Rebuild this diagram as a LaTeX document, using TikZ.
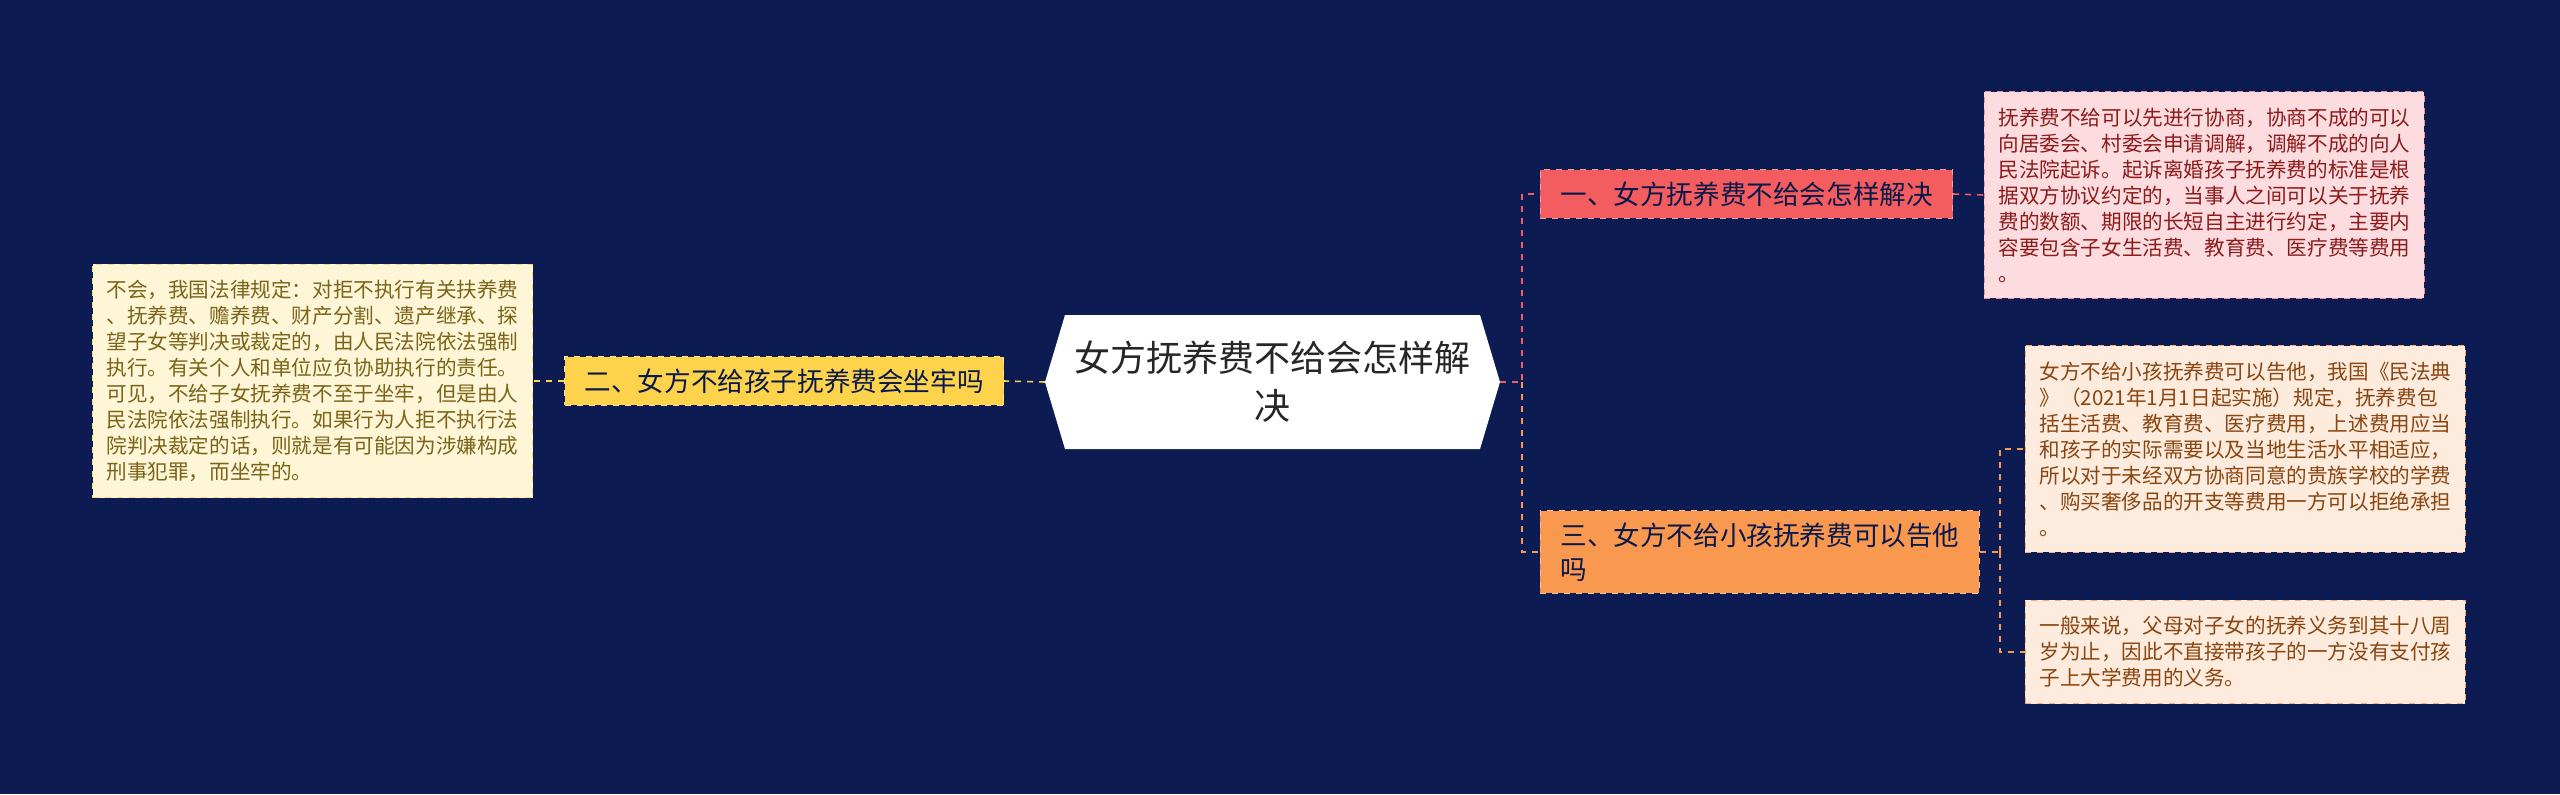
\documentclass[tikz,border=0pt]{standalone}
\usepackage{fontspec}
\setmainfont{Noto Sans CJK SC}
\usetikzlibrary{positioning, calc}
\definecolor{bgNavy}{HTML}{0C1C52}
\definecolor{redMain}{HTML}{F35D5F}
\definecolor{redSoft}{HTML}{FCDCDF}
\definecolor{redText}{HTML}{8E1B1B}
\definecolor{orangeMain}{HTML}{F8994F}
\definecolor{orangeSoft}{HTML}{FDEBDD}
\definecolor{orangeText}{HTML}{8A4510}
\definecolor{yellowMain}{HTML}{FDD34B}
\definecolor{yellowSoft}{HTML}{FFF6D8}
\definecolor{yellowText}{HTML}{7A6418}
\tikzset{
    % Branches
    branchBox/.style={rectangle, draw=#1!60!white, dashed, fill=#1, text=bgNavy!90!black,
        inner xsep=10pt, inner ysep=6pt, align=left, font=\fontsize{13.3}{17}\selectfont},
    % Details
    detailBox/.style={rectangle, draw=#1, dashed, inner xsep=7pt, inner ysep=8pt,
        align=left, font=\fontsize{10.3}{13}\selectfont},
    linkLine/.style={dashed, thick, draw=#1}
}
\begin{document}
\begin{tikzpicture}[x=0.5pt, y=-0.5pt]
    \fill[bgNavy] (0,0) rectangle (2560,794);
    \useasboundingbox (0,0) rectangle (2560,794);

    % Centre
    \fill[white] (1045,382) -- (1065,315) -- (1480,315) -- (1500,382) -- (1480,449) -- (1065,449) -- cycle;
    \node[align=center, font=\fontsize{18}{24}\selectfont, text=black!85] (root) at (1272,382)
        {女方抚养费不给会怎样解\\决};
    \coordinate (rootL) at (1045,382);
    \coordinate (rootR) at (1500,382);
    \coordinate (fork) at (1522,382);

    % Branch one
    \node[branchBox=redMain, anchor=west] (bOne) at (1540,194)
        {一、女方抚养费不给会怎样解决};
    \node[detailBox=redMain!70!white, fill=redSoft, text=redText, anchor=west] (dOne) at (1984,195)
        {抚养费不给可以先进行协商，协商不成的可以\\向居委会、村委会申请调解，调解不成的向人\\民法院起诉。起诉离婚孩子抚养费的标准是根\\据双方协议约定的，当事人之间可以关于抚养\\费的数额、期限的长短自主进行约定，主要内\\容要包含子女生活费、教育费、医疗费等费用\\。};

    % Branch three
    \node[branchBox=orangeMain, anchor=west] (bThree) at (1540,552)
        {三、女方不给小孩抚养费可以告他\\吗};
    \node[detailBox=orangeMain!80!white, fill=orangeSoft, text=orangeText, anchor=west] (dThreeA) at (2025,449)
        {女方不给小孩抚养费可以告他，我国《民法典\\》（2021年1月1日起实施）规定，抚养费包\\括生活费、教育费、医疗费用，上述费用应当\\和孩子的实际需要以及当地生活水平相适应，\\所以对于未经双方协商同意的贵族学校的学费\\、购买奢侈品的开支等费用一方可以拒绝承担\\。};
    \node[detailBox=orangeMain!80!white, fill=orangeSoft, text=orangeText, anchor=west] (dThreeB) at (2025,652)
        {一般来说，父母对子女的抚养义务到其十八周\\岁为止，因此不直接带孩子的一方没有支付孩\\子上大学费用的义务。};

    % Branch two
    \node[branchBox=yellowMain, anchor=east] (bTwo) at (1004,381)
        {二、女方不给孩子抚养费会坐牢吗};
    \node[detailBox=yellowMain!80!white, fill=yellowSoft, text=yellowText, anchor=east] (dTwo) at (533,381)
        {不会，我国法律规定：对拒不执行有关扶养费\\、抚养费、赡养费、财产分割、遗产继承、探\\望子女等判决或裁定的，由人民法院依法强制\\执行。有关个人和单位应负协助执行的责任。\\可见，不给子女抚养费不至于坐牢，但是由人\\民法院依法强制执行。如果行为人拒不执行法\\院判决裁定的话，则就是有可能因为涉嫌构成\\刑事犯罪，而坐牢的。};

    % Links
    \draw[linkLine=redMain] (rootR) -- (fork) |- (bOne.west);
    \draw[linkLine=orangeMain] (fork) |- (bThree.west);
    \draw[linkLine=redMain] (bOne.east) -- (dOne.west);
    \draw[linkLine=orangeMain] (bThree.east) -- ++(20,0) coordinate (forkB);
    \draw[linkLine=orangeMain] (forkB) |- (dThreeA.west);
    \draw[linkLine=orangeMain] (forkB) |- (dThreeB.west);
    \draw[linkLine=yellowMain] (rootL) -- (bTwo.east);
    \draw[linkLine=yellowMain] (bTwo.west) -- (dTwo.east);
\end{tikzpicture}
\end{document}
